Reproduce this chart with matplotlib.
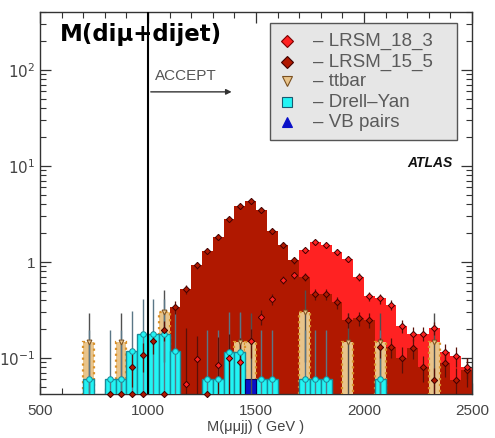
import numpy as np
import matplotlib
matplotlib.use("Agg")
import matplotlib.pyplot as plt
from matplotlib.patches import Rectangle
from matplotlib.ticker import MultipleLocator, LogLocator, NullFormatter

# ---------------- data (50 GeV bins, 500-2500 GeV) ----------------
bin_edges = np.arange(500, 2501, 50)
centers = bin_edges[:-1] + 25

# LRSM_15_5 (dark red) bin contents
lrsm15 = [0, 0, 0, 0, 0, 0, 0, 0, 0.08, 0.107,
          0.15, 0.196, 0.34, 0.52, 0.93, 1.3, 1.82, 2.8, 3.8, 4.3,
          3.5, 2.1, 1.5, 1.05, 0.70, 0.46, 0.46, 0.38, 0.25, 0.26,
          0.25, 0.13, 0.13, 0.10, 0.127, 0.081, 0.059, 0.088, 0.059, 0.075]
lrsm15_err = [0, 0, 0, 0, 0, 0, 0, 0, 0.03, 0.035,
              0.04, 0.045, 0.05, 0.06, 0.08, 0.1, 0.12, 0.15, 0.18, 0.2,
              0.17, 0.13, 0.11, 0.09, 0.07, 0.06, 0.06, 0.055, 0.045, 0.045,
              0.045, 0.03, 0.03, 0.03, 0.03, 0.025, 0.02, 0.025, 0.02, 0.025]

# LRSM_18_3 (red) bin contents (0 = empty bin, marker drawn at axis floor)
lrsm18 = [np.nan, np.nan, np.nan, np.nan, np.nan, np.nan, 0, 0, 0, 0,
          np.nan, 0, np.nan, 0.054, 0.098, 0, 0.085, 0.10, 0.091, 0.15,
          0.27, 0.41, 0.65, 0.73, 1.33, 1.62, 1.5, 1.27, 1.07, 0.70,
          0.44, 0.42, 0.36, 0.216, 0.18, 0.18, 0.205, 0.115, 0.105, 0.081]
lrsm18_err = [0, 0, 0, 0, 0, 0, 0, 0, 0, 0,
              0, 0, 0, 0.15, 0.07, 0, 0.08, 0.08, 0.07, 0.05,
              0.05, 0.05, 0.06, 0.06, 0.08, 0.09, 0.09, 0.08, 0.08, 0.06,
              0.05, 0.05, 0.045, 0.035, 0.03, 0.03, 0.03, 0.025, 0.025, 0.02]

# ttbar (tan)
ttbar = [0, 0, 0, 0, 0.147, 0, 0, 0.147, 0, 0,
         0, 0.30, 0, 0, 0, 0, 0, 0, 0.147, 0.147,
         0, 0, 0, 0, 0.30, 0, 0, 0, 0.147, 0,
         0, 0.147, 0, 0, 0, 0, 0.147, 0, 0, 0]
ttbar_err = [0, 0, 0, 0, 0.147, 0, 0, 0.147, 0, 0,
             0, 0.21, 0, 0, 0, 0, 0, 0, 0.147, 0.147,
             0, 0, 0, 0, 0.21, 0, 0, 0, 0.147, 0,
             0, 0.147, 0, 0, 0, 0, 0.147, 0, 0, 0]

# Drell-Yan (cyan)
dy = [0, 0, 0, 0, 0.06, 0, 0.06, 0.06, 0.118, 0.178,
      0.18, 0.178, 0.118, 0, 0, 0.06, 0.06, 0.115, 0.115, 0,
      0.06, 0.06, 0, 0, 0.06, 0.06, 0.06, 0, 0, 0,
      0, 0.06, 0, 0, 0, 0, 0, 0, 0, 0]
dy_err = [0, 0, 0, 0, 0.135, 0, 0.135, 0.135, 0.19, 0.234,
          0.234, 0.234, 0.19, 0, 0, 0.135, 0.135, 0.19, 0.19, 0,
          0.135, 0.135, 0, 0, 0.135, 0.135, 0.135, 0, 0, 0,
          0, 0.135, 0, 0, 0, 0, 0, 0, 0, 0]

# VB pairs (blue)
vb = [0] * 19 + [0.06] + [0] * 20

legend_labels = ["\u2013 LRSM_18_3", "\u2013 LRSM_15_5", "\u2013 ttbar",
                 "\u2013 Drell\u2013Yan", "\u2013 VB pairs"]
ytick_vals = [0.1, 1, 10, 100]
ytick_labels = ["$10^{-1}$", "1", "$10^{1}$", "$10^{2}$"]
xtick_vals = [500, 1000, 1500, 2000, 2500]

# ---------------- style ----------------
c_red = "#ff2222"
c_dred = "#b01800"
c_tan = "#e9c48a"
c_tan_edge = "#d8902a"
c_cyan = "#22f4f4"
c_cyan_edge = "#1a8a99"
c_blue = "#0a10c8"
ymin, ymax = 0.0423, 400
floor = 1e-4

plt.rcParams["font.family"] = ["Liberation Sans", "DejaVu Sans"]

fig = plt.figure(figsize=(4.95, 4.38), dpi=100)
ax = fig.add_axes([40 / 495, 44 / 438, 432 / 495, 382 / 438])
ax.set_yscale("log")
ax.set_xlim(500, 2500)
ax.set_ylim(ymin, ymax)

l15 = np.array(lrsm15, float)
l18 = np.array(lrsm18, float)
l18_fill = np.where(np.nan_to_num(l18) > 0, np.nan_to_num(l18), floor)
l15_fill = np.where(l15 > 0, l15, floor)

ax.stairs(l18_fill, bin_edges, fill=True, baseline=floor, color=c_red, zorder=1)
ax.stairs(l15_fill, bin_edges, fill=True, baseline=floor, color=c_dred, zorder=2)

def bars(vals, face, edge, z, ls="-", lw=1.0):
    v = np.array(vals, float)
    m = v > 0
    ax.bar(centers[m], v[m] - floor, width=50, bottom=floor, color=face,
           edgecolor=edge, linewidth=lw, linestyle=ls, zorder=z)

bars(ttbar, c_tan, c_tan_edge, 3, ls=":", lw=1.6)
bars(dy, c_cyan, c_cyan_edge, 4, lw=1.0)
bars(vb, c_blue, "#000060", 5, lw=0.8)

def errs(vals, err, color, z, lw=1.0):
    v = np.nan_to_num(np.array(vals, float))
    e = np.array(err, float)
    m = (v > 0) & (e > 0)
    lo = np.maximum(v[m] - e[m], floor)
    ax.vlines(centers[m], lo, v[m] + e[m], colors=color, linewidth=lw, zorder=z)

errs(ttbar, ttbar_err, "#505050", 6)
errs(dy, dy_err, "#5a7686", 6)
errs(lrsm15, lrsm15_err, "#5a1008", 6, lw=0.9)
errs(lrsm18, lrsm18_err, "#5a1008", 6, lw=0.9)

def markers(vals, marker, face, edge, z, ms=5):
    v = np.array(vals, float)
    m = np.isfinite(v) & (v > 0)
    ax.plot(centers[m], v[m], ls="none", marker=marker, ms=ms, mfc=face,
            mec=edge, mew=0.7, zorder=z)
    zero = np.isfinite(v) & (v == 0)
    return zero

markers(ttbar, "v", c_tan, "#7a5020", 7, ms=3.5)
markers(dy, "o", c_cyan, c_cyan_edge, 7, ms=4)
markers(lrsm15, "D", c_dred, "#400000", 8, ms=3.2)
z18 = markers(lrsm18, "D", c_red, "#400000", 8, ms=3.2)
ax.plot(centers[z18], np.full(z18.sum(), ymin), ls="none", marker="D", ms=3.2,
        mfc=c_dred, mec="#400000", mew=0.7, zorder=9, clip_on=False)

# ACCEPT cut line and arrow
ax.axvline(1000, color="black", lw=1.5, zorder=10)
ax.annotate("", xy=(1400, 59), xytext=(1000, 59),
            arrowprops=dict(arrowstyle="-|>", color="#333333", lw=1.0,
                            mutation_scale=8), zorder=10)
ax.text(1032, 87, "ACCEPT", fontsize=11, color="#555555", va="center",
        ha="left", zorder=10)

# axes formatting (ROOT style)
ax.set_xticks(xtick_vals)
ax.xaxis.set_minor_locator(MultipleLocator(100))
ax.set_yticks(ytick_vals)
ax.set_yticklabels(ytick_labels)
ax.yaxis.set_minor_locator(LogLocator(base=10, subs=np.arange(2, 10), numticks=20))
ax.yaxis.set_minor_formatter(NullFormatter())
ax.tick_params(which="both", direction="in", top=True, right=True,
               colors="#333333", labelcolor="#444444", labelsize=11)
ax.tick_params(axis="x", which="major", pad=7)
ax.tick_params(which="major", length=8, width=0.9)
ax.tick_params(which="minor", length=4, width=0.8)
for sp in ax.spines.values():
    sp.set_color("#333333")
    sp.set_linewidth(1.0)
ax.set_xlabel("M(\u03bc\u03bcjj) ( GeV )", fontsize=10.5, color="#444444",
              labelpad=2)

# legend (ROOT-style box)
ax.add_patch(Rectangle((0.532, 0.665), 0.433, 0.306, transform=ax.transAxes,
                       facecolor="#e6e6e6", edgecolor="#555555", lw=1.0,
                       zorder=11))
leg_styles = [("D", c_red, "#7a0000", 6), ("D", c_dred, "#400000", 6),
              ("v", c_tan, "#7a5020", 7), ("s", c_cyan, "#1a5a70", 7),
              ("^", c_blue, c_blue, 7)]
leg_y = [0.924, 0.869, 0.819, 0.764, 0.712]
for (mk, fc, ec, ms), lab, yy in zip(leg_styles, legend_labels, leg_y):
    ax.plot([0.572], [yy], transform=ax.transAxes, marker=mk, ms=ms, mfc=fc,
            mec=ec, mew=0.8, ls="none", zorder=12, clip_on=False)
    ax.text(0.632, yy, lab, transform=ax.transAxes, fontsize=13.5,
            color="#5a5a5a", va="center", ha="left", zorder=12)

ax.text(0.046, 0.94, "M(di\u03bc+dijet)", transform=ax.transAxes,
        fontsize=16.5, fontweight="bold", family="DejaVu Sans",
        va="center", ha="left", color="black", zorder=13)
ax.text(0.956, 0.605, "ATLAS", transform=ax.transAxes, fontsize=10,
        fontweight="bold", fontstyle="italic", va="center", ha="right",
        color="#111111", zorder=12)

fig.savefig("out.png", dpi=100)
